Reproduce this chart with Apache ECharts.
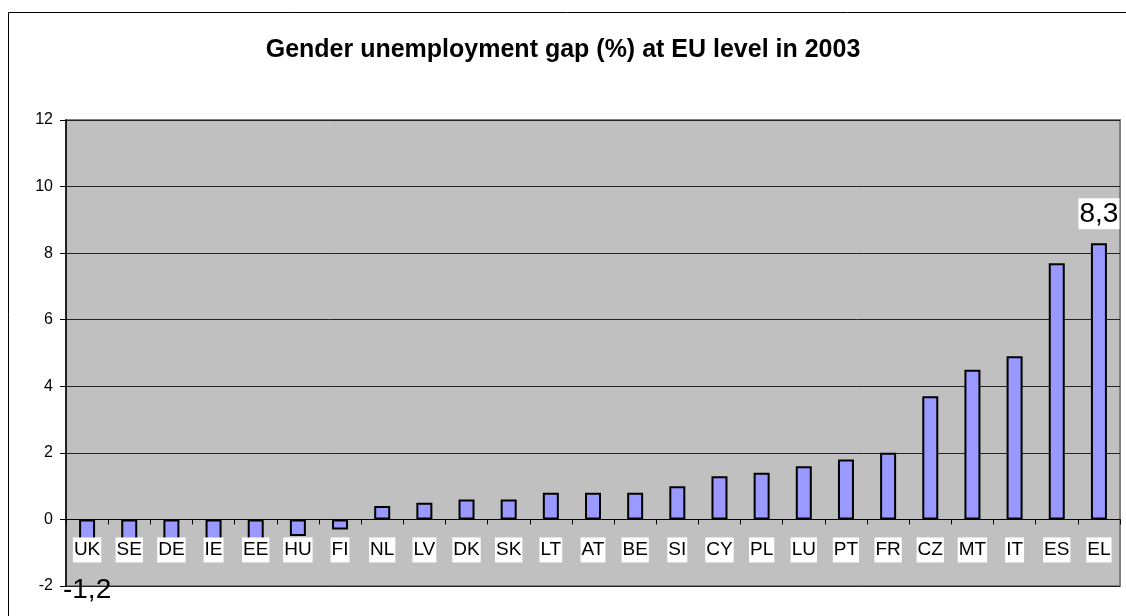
<!DOCTYPE html>
<html>
<head>
<meta charset="utf-8">
<script src="https://cdn.jsdelivr.net/npm/echarts@6/dist/echarts.min.js"></script>
<style>
  html, body { margin: 0; padding: 0; background: #fff; }
  #chart { width: 1126px; height: 616px; }
</style>
</head>
<body>
<div id="chart"></div>
<script>
// countries, sorted by gap
const countries = ['UK', 'SE', 'DE', 'IE', 'EE', 'HU', 'FI', 'NL', 'LV', 'DK', 'SK', 'LT', 'AT',
  'BE', 'SI', 'CY', 'PL', 'LU', 'PT', 'FR', 'CZ', 'MT', 'IT', 'ES', 'EL']
// gap in percentage points (women minus men)
const gapValues = [-1.2, -1.0, -0.9, -0.8, -0.7, -0.5, -0.3, 0.4, 0.5, 0.6, 0.6, 0.8, 0.8,
  0.8, 1.0, 1.3, 1.4, 1.6, 1.8, 2.0, 3.7, 4.5, 4.9, 7.7, 8.3]
const yTicks = [-2, 0, 2, 4, 6, 8, 10, 12]

const font = 'Arial, "Liberation Sans", sans-serif'
const chart = echarts.init(document.getElementById('chart'))

const gridTop = 120
const gridBottom = 30
// labels sit just under the zero line, so shift the label axis up from the grid bottom
const plotHeight = 616 - gridTop - gridBottom
const zeroOffset = -plotHeight * (0 - yTicks[0]) / (yTicks[yTicks.length - 1] - yTicks[0])

// only first and last bar carry a value label
const barData = gapValues.map((v, i) => {
  const item = { value: v }
  if (i === 0) {
    item.label = {
      show: true, position: 'bottom', distance: 17,
      fontSize: 28, color: '#000', fontFamily: font,
      formatter: p => String(p.value).replace('.', ',')
    }
  }
  if (i === gapValues.length - 1) {
    item.label = {
      show: true, position: 'top', distance: 14,
      fontSize: 28, color: '#000', fontFamily: font,
      backgroundColor: '#fff', padding: [2, 1, 1, 1],
      formatter: p => String(p.value).replace('.', ',')
    }
  }
  return item
})

const option = {
  animation: false,
  backgroundColor: '#fff',
  graphic: [{
    type: 'rect',
    shape: { x: 8.5, y: 12.5, width: 1200, height: 700 },
    style: { fill: 'none', stroke: '#000', lineWidth: 1 },
    silent: true
  }],
  title: {
    text: 'Gender unemployment gap (%) at EU level in 2003',
    left: 'center',
    top: 33,
    textStyle: { fontFamily: font, fontSize: 25, fontWeight: 'bold', color: '#000' }
  },
  grid: {
    left: 66, right: 6, top: gridTop, bottom: gridBottom,
    outerBoundsMode: 'none',
    containLabel: false,
    show: true,
    backgroundColor: '#C0C0C0',
    borderColor: '#808080',
    borderWidth: 2
  },
  xAxis: [{
    type: 'category',
    data: countries,
    z: 10,
    axisLine: { onZero: true, onZeroAxisIndex: 0, lineStyle: { color: '#000', width: 1 } },
    axisTick: { show: true, length: 5, lineStyle: { color: '#000' } },
    axisLabel: { show: false },
    splitLine: { show: false }
  }, {
    // label-only axis placed on the zero line
    type: 'category',
    data: countries,
    position: 'bottom',
    offset: zeroOffset,
    z: 10,
    axisLine: { show: false, onZero: false },
    axisTick: { show: false },
    axisLabel: {
      interval: 0,
      margin: 18,
      fontFamily: font,
      fontSize: 19,
      lineHeight: 21,
      color: '#000',
      backgroundColor: '#fff',
      padding: [2, 1, 2, 1]
    },
    splitLine: { show: false }
  }],
  yAxis: {
    type: 'value',
    min: yTicks[0],
    max: yTicks[yTicks.length - 1],
    interval: 2,
    axisLine: { show: true, lineStyle: { color: '#000', width: 1.5 } },
    axisTick: { show: true, length: 6, lineStyle: { color: '#000' } },
    axisLabel: { margin: 13, fontFamily: font, fontSize: 16, color: '#000' },
    splitLine: { show: true, lineStyle: { color: '#222', width: 1 } }
  },
  series: [{
    type: 'bar',
    xAxisIndex: 0,
    data: barData,
    barWidth: 16,
    itemStyle: { color: '#9999FF', borderColor: '#000', borderWidth: 2 }
  }]
}

chart.setOption(option)
</script>
</body>
</html>
